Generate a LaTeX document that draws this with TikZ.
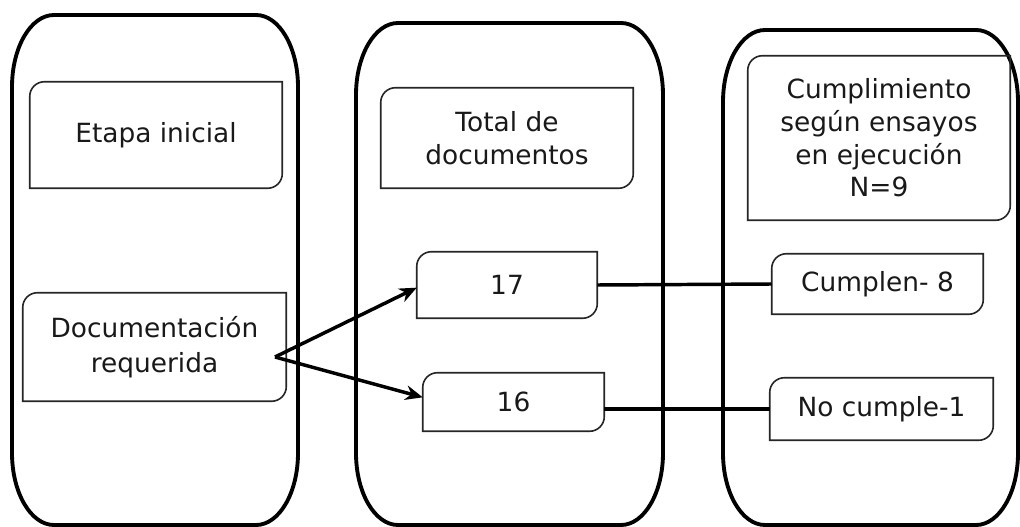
\documentclass[tikz,border=0pt]{standalone}
\usepackage{fontspec}
\setmainfont{DejaVu Sans}
\usetikzlibrary{arrows.meta}
\tikzset{
  lane/.style={line width=2.9pt},
  boxtxt/.style={draw=none, inner sep=0pt, align=center, text=black!90,
    font=\fontsize{19.8}{24.5}\selectfont},
  conn/.style={line width=2.6pt},
  arr/.style={conn, -{Stealth[length=13pt,width=11pt]}}
}
\newcommand\diagbox[1]{%
  \draw[line width=1.2pt, black!85] (#1.south west) -- ([yshift=-11pt]#1.north west)
    arc[start angle=180,end angle=90,radius=11pt] -- (#1.north east)
    -- ([yshift=11pt]#1.south east)
    arc[start angle=0,end angle=-90,radius=11pt] -- cycle;}
% #1 x0, #2 y0 (top), #3 x1, #4 y1 (bottom), pixel units
\newcommand\lanebox[4]{%
  \draw[lane] ([xshift=31.5pt]#1,#4) -- ([xshift=-31.5pt]#3,#4)
    arc[start angle=270,end angle=360,x radius=31.5pt,y radius=54pt]
    -- ([yshift=-54pt]#3,#2)
    arc[start angle=0,end angle=90,x radius=31.5pt,y radius=54pt]
    -- ([xshift=31.5pt]#1,#2)
    arc[start angle=90,end angle=180,x radius=31.5pt,y radius=54pt]
    -- ([yshift=54pt]#1,#4)
    arc[start angle=180,end angle=270,x radius=31.5pt,y radius=54pt] -- cycle;}
\begin{document}
\begin{tikzpicture}[x=0.75pt,y=-0.75pt]
\useasboundingbox (0,0) rectangle (1020,527);
\fill[white] (0,0) rectangle (1020,527);
% lanes
\lanebox{12}{15}{298}{525}
\lanebox{356}{23}{663}{525}
\lanebox{723}{30}{1018}{525}
% boxes
\node[boxtxt, minimum width=189pt, minimum height=79.5pt] (etapa) at (156,135) {Etapa inicial};
\node[boxtxt, minimum width=197.25pt, minimum height=81pt] (doc) at (154.5,347) {Documentación\\[1.5pt]requerida};
\node[boxtxt, minimum width=189pt, minimum height=75pt] (total) at (507,138) {Total de\\documentos};
\node[boxtxt, minimum width=135pt, minimum height=49.5pt] (n17) at (507,285) {17};
\node[boxtxt, minimum width=135.75pt, minimum height=43.5pt] (n16) at (513.5,402) {16};
\node[boxtxt, minimum width=196.5pt, minimum height=123pt] (cumpl) at (879,138) {Cumplimiento\\según ensayos\\en ejecución\\N=9};
\node[boxtxt, minimum width=158.25pt, minimum height=45pt] (cumplen) at (877.5,284) {Cumplen- 8};
\node[boxtxt, minimum width=167.25pt, minimum height=46.5pt] (nocumple) at (881.5,409) {No cumple-1};
\diagbox{etapa}
\diagbox{doc}
\diagbox{total}
\diagbox{n17}
\diagbox{n16}
\diagbox{cumpl}
\diagbox{cumplen}
\diagbox{nocumple}
% connectors
\coordinate (src) at (275,357);
\draw[arr] (src) -- ([yshift=-2pt]n17.west);
\draw[arr] (src) -- ([yshift=3.5pt]n16.west);
\draw[conn] (n17.east) -- (cumplen.west);
\draw[conn] (n16.east |- nocumple.west) -- (nocumple.west);
\end{tikzpicture}
\end{document}
